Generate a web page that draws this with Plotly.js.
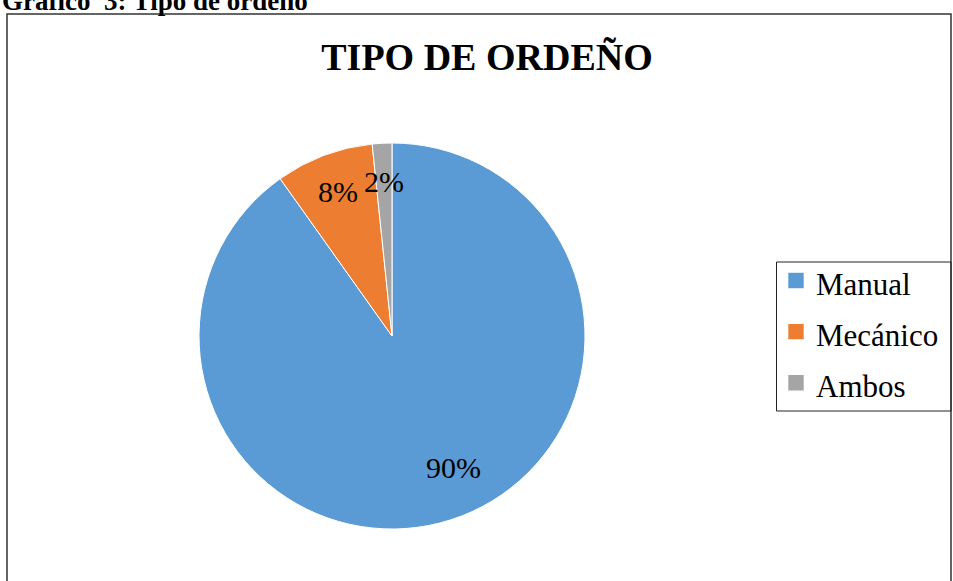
<!DOCTYPE html>
<html>
<head>
<meta charset="utf-8">
<script src="https://cdn.plot.ly/plotly-3.0.1.min.js"></script>
<style>html,body{margin:0;padding:0;background:#fff;}#chart{width:953px;height:581px;}</style>
</head>
<body>
<div id="chart"></div>
<script>
const categories = ["Manual", "Mecánico", "Ambos"];
const counts = [55, 5, 1];
const colors = ["#5B9BD5", "#ED7D31", "#A5A5A5"];
const chartTitle = "TIPO DE ORDEÑO";
const caption = "Gráfico  3: Tipo de ordeño";

const W = 953, H = 581;
const cx = 392, cy = 336, R = 193;
const domX = [(cx - R) / W, (cx + R) / W];
const domY = [(H - cy - R) / H, (H - cy + R) / H];
const serif = "Liberation Serif, Times New Roman, serif";

const total = counts.reduce((a, b) => a + b, 0);
// percentage labels placed at each slice's mid-angle (clockwise from 12 o'clock)
const annotations = [];
let cum = 0;
counts.forEach((v, i) => {
  let mid = (cum + v / 2) / total * 2 * Math.PI;
  cum += v;
  let rr = 0.8 * R;
  if (i === 0) { mid -= 0.13; rr = 0.75 * R; }
  const px = cx + rr * Math.sin(mid);
  const py = cy - rr * Math.cos(mid);
  annotations.push({
    xref: "paper", yref: "paper",
    x: px / W, y: 1 - py / H,
    xanchor: "center", yanchor: "middle",
    text: Math.round(v / total * 100) + "%",
    showarrow: false,
    font: {family: serif, size: 30, color: "#000"}
  });
});
annotations.push({
  xref: "paper", yref: "paper", x: 0, y: 1 - 18 / H,
  xanchor: "left", yanchor: "bottom",
  text: "<b>" + caption + "</b>", showarrow: false,
  font: {family: serif, size: 27, color: "#000"}
});

const data = [{
  type: "pie",
  labels: categories.map(c => '<span style="font-size:31px">' + c + '</span>'),
  values: counts,
  sort: false,
  direction: "clockwise",
  rotation: 0,
  marker: {colors: colors, line: {color: "#ffffff", width: 1}},
  textinfo: "none",
  hoverinfo: "label+percent",
  domain: {x: domX, y: domY}
}];

const layout = {
  width: W, height: H,
  margin: {l: 0, r: 0, t: 0, b: 0},
  paper_bgcolor: "#fff",
  title: {
    text: "<b>" + chartTitle + "</b>",
    x: 487 / W, xanchor: "center",
    y: 1 - 57 / H, yanchor: "middle",
    font: {family: serif, size: 38, color: "#000"}
  },
  showlegend: true,
  legend: {
    x: 776 / W, xanchor: "left",
    y: 1 - 250 / H, yanchor: "top",
    borderwidth: 0,
    bgcolor: "rgba(0,0,0,0)",
    font: {family: serif, size: 37, color: "#000"}
  },
  shapes: [{
    type: "rect", xref: "paper", yref: "paper",
    x0: 7 / W, x1: 951 / W, y0: -0.02, y1: 1 - 14 / H,
    line: {color: "#333", width: 1.5}, fillcolor: "rgba(0,0,0,0)"
  }, {
    type: "rect", xref: "paper", yref: "paper",
    x0: 776.5 / W, x1: 951 / W, y0: 1 - 411 / H, y1: 1 - 262 / H,
    line: {color: "#222", width: 1}, fillcolor: "rgba(0,0,0,0)"
  }],
  annotations: annotations
};

Plotly.newPlot("chart", data, layout, {displayModeBar: false, staticPlot: true}).then(gd => {
  gd.querySelectorAll(".legendpoints path").forEach(p => {
    const t = p.getAttribute("transform") || "";
    p.setAttribute("transform", t + " scale(1.4)");
  });
});
</script>
</body>
</html>
